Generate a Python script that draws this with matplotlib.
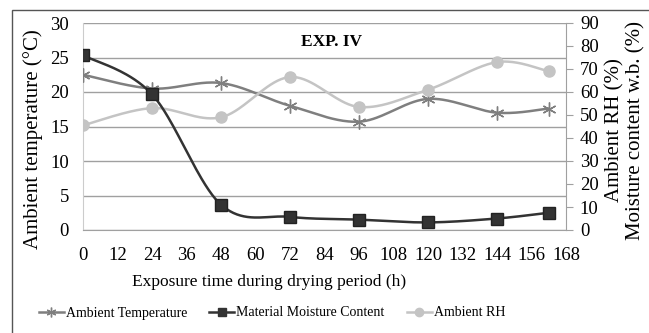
import numpy as np
import matplotlib
matplotlib.use("Agg")
import matplotlib.pyplot as plt
from matplotlib.lines import Line2D
from matplotlib.patches import Rectangle

plt.rcParams['font.family'] = ['Liberation Serif', 'DejaVu Serif']

# Sampling times (h)
hours = [0, 24, 48, 72, 96, 120, 144, 162]
# Ambient temperature (°C), left axis
ambient_temp = [22.5, 20.5, 21.3, 18.0, 15.7, 19.0, 17.0, 17.6]
# Material moisture content w.b. (%), right axis
moisture = [76.0, 59.0, 11.0, 5.7, 4.5, 3.3, 5.0, 7.5]
# Ambient relative humidity (%), right axis
ambient_rh = [45.5, 53.0, 49.0, 66.5, 53.5, 61.0, 73.0, 69.0]

x_ticks = list(range(0, 169, 12))
left_ticks = list(range(0, 31, 5))
right_ticks = list(range(0, 91, 10))


def smooth(xs, ys, n=40):
    """Catmull-Rom style smoothing (as used by spreadsheet smoothed lines)."""
    xs = np.asarray(xs, float)
    ys = np.asarray(ys, float)
    px = np.concatenate([[xs[0]], xs, [xs[-1]]])
    py = np.concatenate([[ys[0]], ys, [ys[-1]]])
    outx, outy = [], []
    for i in range(1, len(px) - 2):
        p0, p1, p2, p3 = (np.array([px[j], py[j]]) for j in (i - 1, i, i + 1, i + 2))
        c1 = p1 + (p2 - p0) / 6.0
        c2 = p2 - (p3 - p1) / 6.0
        t = np.linspace(0, 1, n)[:, None]
        b = ((1 - t) ** 3) * p1 + 3 * ((1 - t) ** 2) * t * c1 + 3 * (1 - t) * t ** 2 * c2 + t ** 3 * p2
        outx.extend(b[:, 0])
        outy.extend(b[:, 1])
    return np.array(outx), np.array(outy)


W, H = 649, 333
c_temp = '#7f7f7f'
c_moist = '#333333'
c_rh = '#c4c4c4'
c_grid = '#a0a0a0'

fig = plt.figure(figsize=(W / 100, H / 100), dpi=100)
fig.patches.append(Rectangle((12 / W, -0.1), 1.2, 1 - 10 / H + 0.1,
                             transform=fig.transFigure, fill=False,
                             edgecolor='#555555', linewidth=1.0))

ax = fig.add_axes([83 / W, 1 - 230 / H, (566 - 83) / W, (230 - 23) / H])
ax2 = ax.twinx()

ax.set_xlim(0, 168)
ax.set_ylim(0, 30)
ax2.set_ylim(0, 90)
ax.set_xticks(x_ticks)
ax.set_yticks(left_ticks)
ax2.set_yticks(right_ticks)

ax.yaxis.grid(True, color=c_grid, linewidth=1.0)
ax.set_axisbelow(True)

for a in (ax, ax2):
    for s in a.spines.values():
        s.set_visible(False)
ax.spines['bottom'].set_visible(True)
ax.spines['bottom'].set_color(c_grid)
ax.spines['left'].set_visible(True)
ax.spines['left'].set_color('#cccccc')
ax2.spines['right'].set_visible(True)
ax2.spines['right'].set_color(c_grid)

ax.tick_params(axis='both', length=0, labelsize=13.5)
ax.tick_params(axis='x', pad=12)
ax.tick_params(axis='y', pad=10)
ax2.tick_params(axis='y', length=5, color=c_grid, labelsize=13.5, pad=5)

tx, ty = smooth(hours, ambient_temp)
ax.plot(tx, ty, color=c_temp, linewidth=1.8, zorder=3)
ax.plot(hours, ambient_temp, linestyle='none', marker=(6, 2, 0), markersize=10,
        markeredgecolor=c_temp, markeredgewidth=1.0, zorder=3)

rx, ry = smooth(hours, ambient_rh)
ax2.plot(rx, ry, color=c_rh, linewidth=1.8, zorder=3)
ax2.plot(hours, ambient_rh, linestyle='none', marker='o', markersize=8,
         color=c_rh, zorder=3)

mx, my = smooth(hours, moisture)
ax2.plot(mx, my, color=c_moist, linewidth=1.8, zorder=4)
ax2.plot(hours, moisture, linestyle='none', marker='s', markersize=8.5,
         color=c_moist, markeredgecolor='#222222', zorder=4)

fig.text(33 / W, 1 - 139 / H, 'Ambient temperature (°C)', rotation=90,
         ha='center', va='center', fontsize=15)
fig.text(269 / W, 1 - 282 / H, 'Exposure time during drying period (h)',
         ha='center', va='center', fontsize=12.5)
fig.text(615 / W, 1 - 130 / H, 'Ambient RH (%)', rotation=90,
         ha='center', va='center', fontsize=15)
fig.text(636 / W, 1 - 131 / H, 'Moisture content w.b. (%)', rotation=90,
         ha='center', va='center', fontsize=15)

ax.text(86.3, 27.2, 'EXP. IV', fontsize=12.5, fontweight='bold',
        ha='center', va='center')

handles = [
    Line2D([], [], color=c_temp, linewidth=1.8, marker=(6, 2, 0), markersize=7,
           markeredgecolor=c_temp),
    Line2D([], [], color=c_moist, linewidth=1.8, marker='s', markersize=6),
    Line2D([], [], color=c_rh, linewidth=1.8, marker='o', markersize=6),
]
labels = ['Ambient Temperature', 'Material Moisture Content', 'Ambient RH']
fig.legend(handles, labels, loc='center', ncol=3, frameon=False,
           bbox_to_anchor=(272 / W, 1 - 313 / H), fontsize=10,
           handlelength=1.8, handletextpad=0.15, columnspacing=1.6)

fig.savefig('out.png', dpi=100)
